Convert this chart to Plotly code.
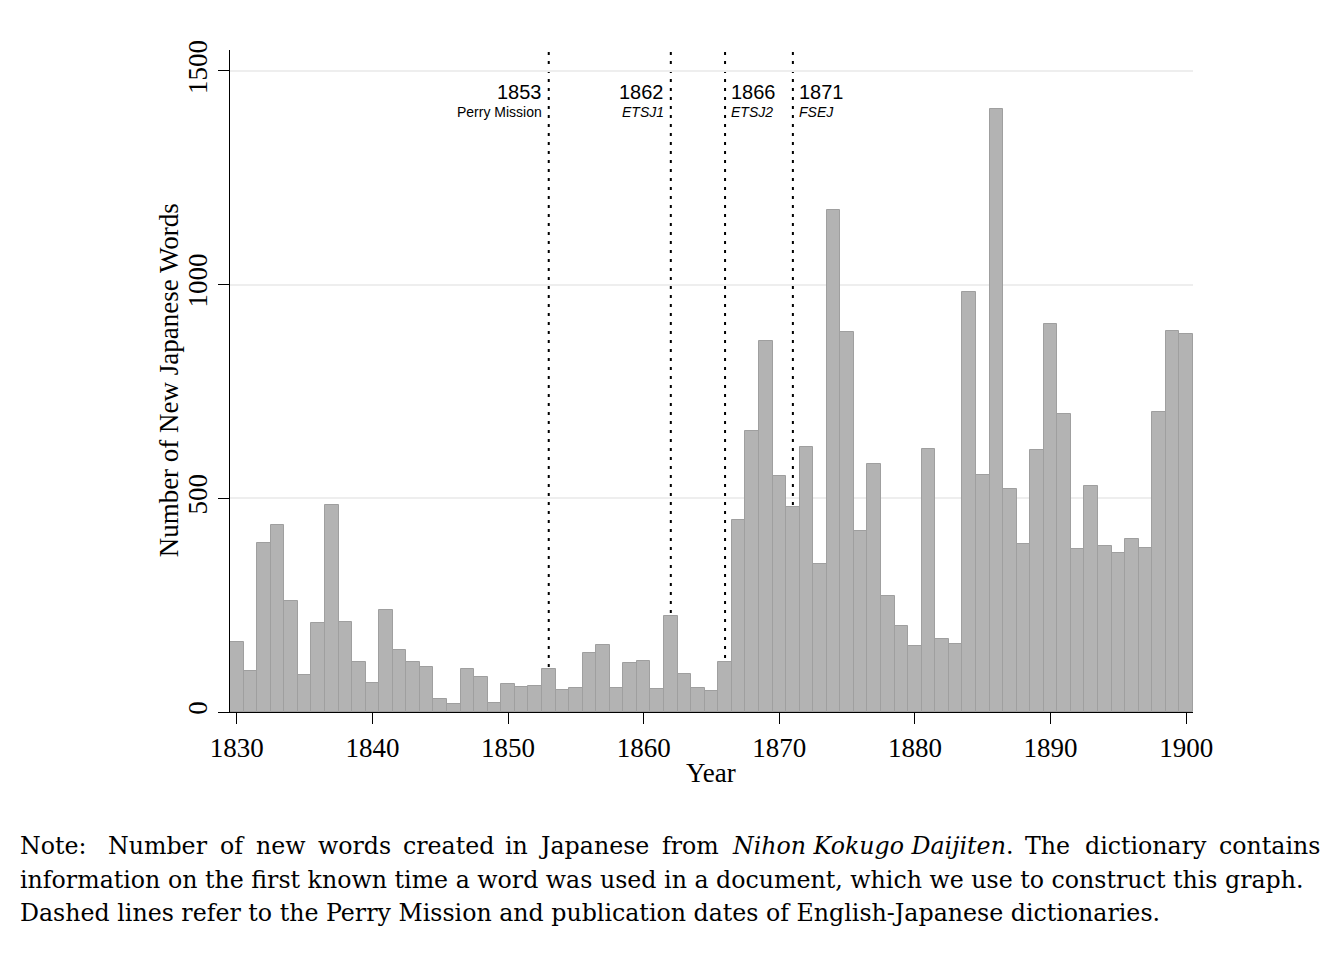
import plotly.graph_objects as go

# new Japanese words per year
years = list(range(1830, 1901))
new_words = [164, 97, 395, 437, 259, 86, 209, 484, 210, 117,
             67, 239, 145, 117, 105, 30, 18, 100, 81, 22,
             65, 59, 61, 101, 51, 55, 137, 157, 57, 115,
             119, 54, 224, 89, 57, 49, 117, 449, 657, 868,
             553, 480, 620, 346, 1174, 889, 423, 580, 271, 202,
             155, 615, 171, 160, 982, 554, 1410, 522, 394, 614,
             909, 697, 381, 529, 389, 373, 405, 384, 702, 891, 884]

event_years = [1853, 1862, 1866, 1871]
event_labels = ["Perry Mission", "ETSJ1", "ETSJ2", "FSEJ"]
event_italic = [False, True, True, True]
event_side = ["left", "left", "right", "right"]

x_ticks = [1830, 1840, 1850, 1860, 1870, 1880, 1890, 1900]
y_ticks = [0, 500, 1000, 1500]

# first note line is justified in the original, so it is set word by word
note_line1_words = ["Note:", "Number", "of", "new", "words", "created", "in", "Japanese", "from",
                    "<i>Nihon Kokugo Daijiten</i>.", "The", "dictionary", "contains"]
# rough rendered widths (px) of those words in the note font, sentence ends get a bit more
note_line1_widths = [67, 98, 23, 48, 72, 88, 21, 109, 56, 272, 46, 121, 101]
note_line1_extra = [8, 0, 0, 0, 0, 0, 0, 0, 0, 8, 0, 0, 0]
note_lines = [
    "information on the first known time a word was used in a document, which we use to construct this graph.",
    "Dashed lines refer to the Perry Mission and publication dates of English-Japanese dictionaries.",
]

# page is 1340x954, the plot div sits 8px in from the body edge
OFF = 8
W, H = 1340 - OFF, 954 - OFF
L, R, T, B = 229.5 - OFF, 1192.8 - OFF, 50 - OFF, 712.3 - OFF
serif = "Liberation Serif"
note_font = dict(family="DejaVu Serif", size=23.7, color="black")
note_left, note_right = 19, 1320


def px_x(px):
    return (px - OFF - L) / (R - L)


def px_y(py):
    return (B - (py - OFF)) / (B - T)


fig = go.Figure(go.Bar(
    x=years, y=new_words,
    marker=dict(color="#b3b3b3", line=dict(color="#9f9f9f", width=1)),
    width=1.0,
    hoverinfo="x+y",
))

# dotted event lines (behind the bars)
shapes = []
for yr in event_years:
    shapes.append(dict(type="line", xref="x", yref="paper", x0=yr, x1=yr, y0=0, y1=1,
                       layer="below", line=dict(color="black", width=2, dash="3px,6px")))

annotations = []
for yr, lab, it, side in zip(event_years, event_labels, event_italic, event_side):
    anchor = "right" if side == "left" else "left"
    shift = -5 if side == "left" else 4
    annotations.append(dict(x=yr, xref="x", y=px_y(92), yref="paper", text=str(yr),
                            showarrow=False, xanchor=anchor, yanchor="middle", xshift=shift,
                            font=dict(family="Liberation Sans", size=20, color="black")))
    txt = "<i>" + lab + "</i>" if it else lab
    annotations.append(dict(x=yr, xref="x", y=px_y(112), yref="paper", text=txt,
                            showarrow=False, xanchor=anchor, yanchor="middle", xshift=shift,
                            font=dict(family="Liberation Sans", size=14, color="black")))

# axis titles
annotations.append(dict(x=px_x(711), xref="paper", y=px_y(773), yref="paper", text="Year",
                        showarrow=False, xanchor="center", yanchor="middle",
                        font=dict(family=serif, size=27, color="black")))
annotations.append(dict(x=px_x(168), xref="paper", y=px_y(381), yref="paper",
                        text="Number of New Japanese Words", textangle=-90,
                        showarrow=False, xanchor="center", yanchor="middle",
                        font=dict(family=serif, size=27, color="black")))

# note under the chart: justify line 1 by spreading the spare space evenly
used = sum(note_line1_widths) + sum(note_line1_extra)
gap = (note_right - note_left - used) / (len(note_line1_words) - 1)
xp = note_left
for word, wd, ex in zip(note_line1_words, note_line1_widths, note_line1_extra):
    annotations.append(dict(x=px_x(xp - 2), xref="paper", y=px_y(846), yref="paper",
                            text=word, showarrow=False, xanchor="left", yanchor="middle",
                            font=note_font))
    xp += wd + ex + gap
for i, line in enumerate(note_lines):
    annotations.append(dict(x=px_x(note_left - 2), xref="paper", y=px_y(880 + 33 * i), yref="paper",
                            text=line, showarrow=False, xanchor="left", yanchor="middle",
                            font=note_font))

fig.update_layout(
    width=W, height=H,
    margin=dict(l=L, r=W - R, t=T, b=H - B, pad=0),
    paper_bgcolor="white", plot_bgcolor="white",
    bargap=0, showlegend=False,
    shapes=shapes, annotations=annotations,
    xaxis=dict(range=[1829.5, 1900.5], tickmode="array", tickvals=x_ticks,
               ticks="outside", ticklen=11, tickwidth=1.3, tickcolor="black",
               showline=True, linecolor="black", linewidth=1.3, showgrid=False, zeroline=False,
               tickfont=dict(family=serif, size=27, color="black")),
    yaxis=dict(range=[0, 1549], tickmode="array", tickvals=y_ticks, tickangle=-90,
               ticks="outside", ticklen=11, tickwidth=1.3, tickcolor="black",
               showline=True, linecolor="black", linewidth=1.3,
               showgrid=True, gridcolor="#eeeeee", gridwidth=1.5, zeroline=False,
               tickfont=dict(family=serif, size=27, color="black")),
)

fig.write_html("out.html")
